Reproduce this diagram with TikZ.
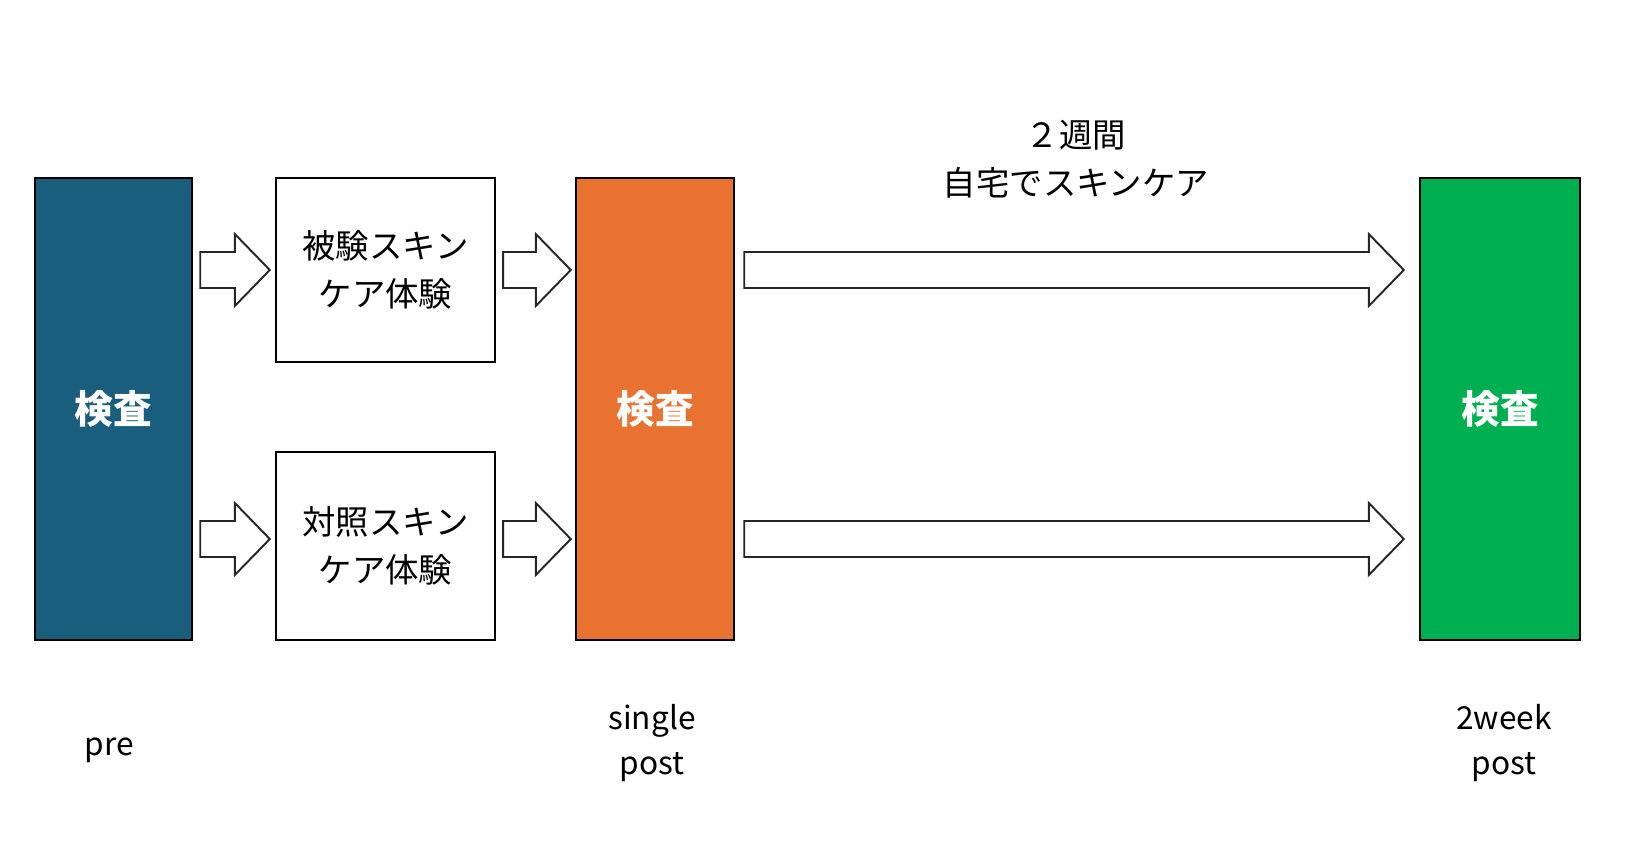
\documentclass[tikz,border=0pt]{standalone}
\usepackage{fontspec}
\setmainfont{Noto Sans CJK JP}
\usetikzlibrary{calc}
\definecolor{preblue}{HTML}{1A5E7E}
\definecolor{postorange}{HTML}{EA7231}
\definecolor{weekgreen}{HTML}{00B050}
\tikzset{
    stage/.style={rectangle, draw, line width=1.4pt, minimum width=3.14cm,
    	minimum height=9.24cm, text=white, font=\bfseries\fontsize{22}{26}\selectfont}
}
\tikzset{
    trial/.style={rectangle, draw, line width=1.4pt, minimum width=4.38cm,
    	align=center, font=\fontsize{19}{27}\selectfont}
}
\tikzset{
    fatarrow/.style={draw=black!85, line width=1.1pt, fill=white, line join=miter}
}
\tikzset{
    caption/.style={align=center, font=\fontsize{18}{26}\selectfont}
}
% block arrow from #1 to #2 (tip at #2)
\newcommand\fatarrow[2]{%
  \draw[fatarrow] ($(#1)+(0,-18)$) -- ($(#2)+(-35,-18)$) -- ($(#2)+(-35,-36)$)
    -- (#2) -- ($(#2)+(-35,36)$) -- ($(#2)+(-35,18)$) -- ($(#1)+(0,18)$) -- cycle;}

\begin{document}
\begin{tikzpicture}[x=0.02cm, y=-0.02cm]
  \useasboundingbox (0,0) rectangle (1626,852);
  \node (pre) [stage, fill=preblue] at (113.5, 409) {検査};
  \node (single) [stage, fill=postorange, minimum width=3.16cm] at (655, 409) {検査};
  \node (week) [stage, fill=weekgreen, minimum width=3.2cm] at (1500, 409) {検査};
  \node (tri) [trial, minimum height=3.68cm] at (385.5, 270) {被験スキン\\ケア体験};
  \node (ctl) [trial, minimum height=3.76cm] at (385.5, 546) {対照スキン\\ケア体験};

  \node (home) [caption, font=\fontsize{19}{27}\selectfont] at (1076, 159) {２週間\\自宅でスキンケア};
  \node (prelbl) [caption] at (109, 750) {pre};
  \node (singlelbl) [caption] at (652, 743) {single\\post};
  \node (weeklbl) [caption] at (1504, 743) {2week\\post};

  \coordinate (row1) at (0, 270);
  \coordinate (row2) at (0, 539);

  \fatarrow{$(pre.east |- row1)+(7,0)$}{$(tri.west)+(-5,0)$}
  \fatarrow{$(pre.east |- row2)+(7,0)$}{$(ctl.west |- row2)+(-5,0)$}
  \fatarrow{$(tri.east)+(7,0)$}{$(single.west |- row1)+(-4,0)$}
  \fatarrow{$(ctl.east |- row2)+(7,0)$}{$(single.west |- row2)+(-4,0)$}
  \fatarrow{$(single.east |- row1)+(9,0)$}{$(week.west |- row1)+(-15,0)$}
  \fatarrow{$(single.east |- row2)+(9,0)$}{$(week.west |- row2)+(-15,0)$}
\end{tikzpicture}
\end{document}
